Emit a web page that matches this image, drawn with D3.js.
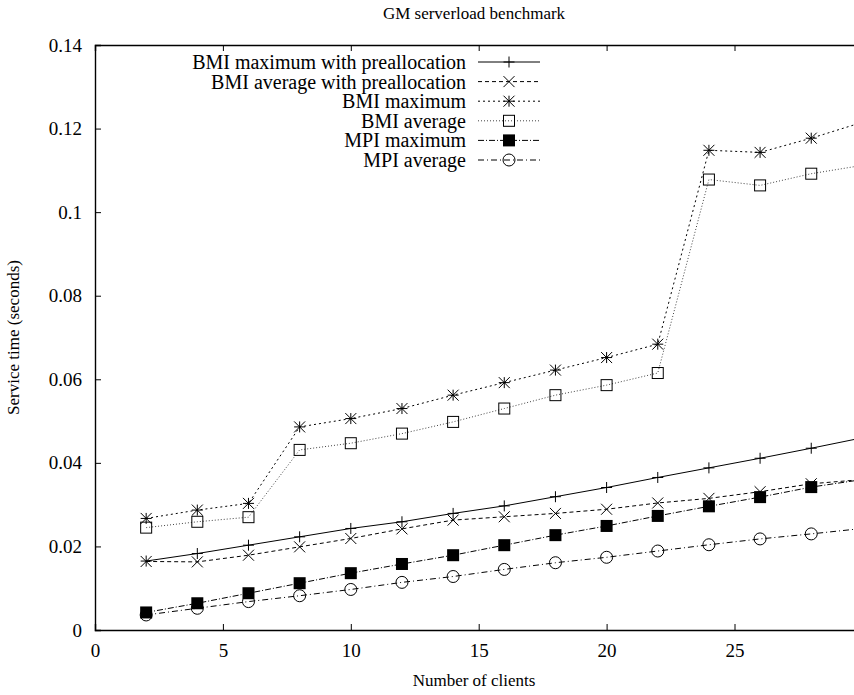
<!DOCTYPE html>
<html>
<head>
<meta charset="utf-8">
<script src="https://cdn.jsdelivr.net/npm/d3@7/dist/d3.min.js"></script>
<style>
  html, body { margin: 0; padding: 0; background: #fff; }
  svg { display: block; }
  svg text, .tick text { font-family: 'Liberation Serif', 'Times New Roman', serif !important; fill: #000; }
</style>
</head>
<body>
<svg id="chart" width="854" height="695"></svg>
<script>
// Number of clients
const clients = [2, 4, 6, 8, 10, 12, 14, 16, 18, 20, 22, 24, 26, 28, 30];

// Service time (seconds) per series
const bmiMaxPrealloc = [0.0165, 0.0183, 0.0203, 0.0223, 0.0243, 0.0259, 0.0279, 0.0297, 0.0319, 0.0341, 0.0365, 0.0388, 0.0411, 0.0435, 0.0460];
const bmiAvgPrealloc = [0.0164, 0.0163, 0.0179, 0.0199, 0.0219, 0.0242, 0.0263, 0.0271, 0.0279, 0.0289, 0.0304, 0.0315, 0.0331, 0.0350, 0.0360];
const bmiMax         = [0.0267, 0.0287, 0.0303, 0.0486, 0.0506, 0.0530, 0.0562, 0.0592, 0.0622, 0.0652, 0.0684, 0.1148, 0.1143, 0.1177, 0.1215];
const bmiAvg         = [0.0245, 0.0259, 0.0270, 0.0431, 0.0447, 0.0470, 0.0498, 0.0530, 0.0562, 0.0586, 0.0615, 0.1078, 0.1064, 0.1092, 0.1112];
const mpiMax         = [0.0042, 0.0064, 0.0088, 0.0112, 0.0136, 0.0158, 0.0179, 0.0203, 0.0227, 0.0249, 0.0273, 0.0296, 0.0318, 0.0342, 0.0360];
const mpiAvg         = [0.0036, 0.0052, 0.0068, 0.0082, 0.0097, 0.0114, 0.0128, 0.0145, 0.0161, 0.0174, 0.0189, 0.0204, 0.0218, 0.0230, 0.0243];

const seriesNames = [
  "BMI maximum with preallocation",
  "BMI average with preallocation",
  "BMI maximum",
  "BMI average",
  "MPI maximum",
  "MPI average"
];

const xTicks = [0, 5, 10, 15, 20, 25];
const yTicks = [0, 0.02, 0.04, 0.06, 0.08, 0.1, 0.12, 0.14];

const chartTitle = "GM serverload benchmark";
const xTitle = "Number of clients";
const yTitle = "Service time (seconds)";

// Line and marker styling per series
const styles = [
  { dash: null,        stroke: "#000", marker: "plus"   },
  { dash: "4,3",       stroke: "#000", marker: "cross"  },
  { dash: "2,3",       stroke: "#000", marker: "star"   },
  { dash: "1,2",       stroke: "#444", marker: "square" },
  { dash: "6,2,1,2",   stroke: "#000", marker: "fsquare"},
  { dash: "6,3,1,3",   stroke: "#000", marker: "circle" }
];

const seriesValues = [bmiMaxPrealloc, bmiAvgPrealloc, bmiMax, bmiAvg, mpiMax, mpiAvg];

const svg = d3.select("#chart");
const plotLeft = 95, plotTop = 45, plotBottom = 630;
const pxPerUnit = 25.58;
const plotRight = plotLeft + 30 * pxPerUnit;

const x = d3.scaleLinear().domain([0, 30]).range([plotLeft, plotRight]);
const y = d3.scaleLinear().domain([0, 0.14]).range([plotBottom, plotTop]);

const fontSize = 19;
const serif = "'Liberation Serif', 'Times New Roman', serif";

// Axes (ticks point inward, mirrored on top/right)
const gx = svg.append("g").attr("transform", `translate(0,${plotBottom})`)
  .call(d3.axisBottom(x).tickValues(xTicks).tickSize(-6).tickPadding(14).tickFormat(d3.format("d")));
const gxTop = svg.append("g").attr("transform", `translate(0,${plotTop})`)
  .call(d3.axisTop(x).tickValues(xTicks).tickSize(-6).tickFormat(""));
const gy = svg.append("g").attr("transform", `translate(${plotLeft},0)`)
  .call(d3.axisLeft(y).tickValues(yTicks).tickSize(-6).tickPadding(13).tickFormat(d => d === 0 ? "0" : String(+d.toFixed(2))));
const gyRight = svg.append("g").attr("transform", `translate(${plotRight},0)`)
  .call(d3.axisRight(y).tickValues(yTicks).tickSize(-6).tickFormat(""));

[gx, gxTop, gy, gyRight].forEach(g => {
  g.attr("font-family", null).attr("font-size", null);
  g.select(".domain").attr("stroke", "#000").attr("stroke-width", 1.4);
  g.selectAll(".tick line").attr("stroke", "#000").attr("stroke-width", 1);
  g.selectAll(".tick text").style("font-family", serif).style("font-size", fontSize + "px").attr("fill", "#000");
});

// Titles
svg.append("text").attr("x", 474).attr("y", 19).attr("text-anchor", "middle")
  .style("font-size", "17px").text(chartTitle);
svg.append("text").attr("x", 474).attr("y", 686).attr("text-anchor", "middle")
  .style("font-size", "17px").text(xTitle);
svg.append("text").attr("transform", `translate(19,${(plotTop + plotBottom) / 2}) rotate(-90)`)
  .attr("text-anchor", "middle").style("font-size", "17px").text(yTitle);

// Marker drawing
function drawMarker(g, type, cx, cy) {
  const s = 5.5;
  const m = g.append("g").attr("transform", `translate(${cx},${cy})`);
  const ln = (x1, y1, x2, y2) => m.append("line").attr("x1", x1).attr("y1", y1).attr("x2", x2).attr("y2", y2)
    .attr("stroke", "#000").attr("stroke-width", 1);
  if (type === "plus") { ln(-s, 0, s, 0); ln(0, -s, 0, s); }
  else if (type === "cross") { ln(-s, -s, s, s); ln(-s, s, s, -s); }
  else if (type === "star") { ln(-s, 0, s, 0); ln(0, -s, 0, s); ln(-s, -s, s, s); ln(-s, s, s, -s); }
  else if (type === "square") { m.append("rect").attr("x", -s).attr("y", -s).attr("width", 2 * s).attr("height", 2 * s)
    .attr("fill", "none").attr("stroke", "#000").attr("stroke-width", 1); }
  else if (type === "fsquare") { m.append("rect").attr("x", -s - 0.5).attr("y", -s - 0.5).attr("width", 2 * s + 1).attr("height", 2 * s + 1)
    .attr("fill", "#000"); }
  else if (type === "circle") { m.append("circle").attr("r", s + 0.5).attr("fill", "none").attr("stroke", "#000").attr("stroke-width", 1); }
}

// Series lines and markers
const line = d3.line().x(d => x(d[0])).y(d => y(d[1]));
const plot = svg.append("g");
seriesValues.forEach((vals, i) => {
  const pts = clients.map((c, j) => [c, vals[j]]);
  const st = styles[i];
  plot.append("path").datum(pts).attr("d", line)
    .attr("fill", "none").attr("stroke", st.stroke).attr("stroke-width", 1)
    .attr("stroke-dasharray", st.dash);
  pts.forEach(p => drawMarker(plot, st.marker, x(p[0]), y(p[1])));
});

// Legend
const legend = svg.append("g");
const legTextX = 466, legY0 = 62, legStep = 19.6;
seriesNames.forEach((name, i) => {
  const ly = legY0 + i * legStep;
  const st = styles[i];
  legend.append("text").attr("x", legTextX).attr("y", ly).attr("dy", "0.35em")
    .attr("text-anchor", "end").style("font-size", "20px").text(name);
  legend.append("line").attr("x1", 478).attr("x2", 540).attr("y1", ly).attr("y2", ly)
    .attr("stroke", st.stroke).attr("stroke-width", 1).attr("stroke-dasharray", st.dash);
  drawMarker(legend, st.marker, 509, ly);
});
</script>
</body>
</html>
